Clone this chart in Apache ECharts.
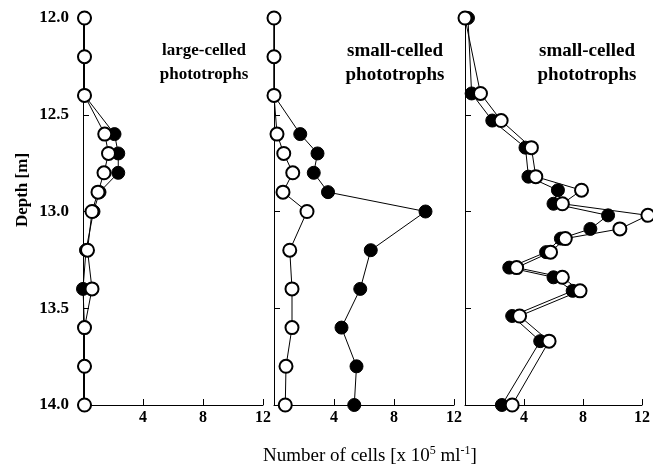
<!DOCTYPE html>
<html>
<head>
<meta charset="utf-8">
<script src="https://cdn.jsdelivr.net/npm/echarts@6/dist/echarts.min.js"></script>
<style>
  html, body { margin: 0; padding: 0; background: #fff; }
  #main { width: 653px; height: 470px; }
</style>
</head>
<body>
<div id="main"></div>
<script>
// depths [m] for the first two panels
const depthA = [12.0, 12.2, 12.4, 12.6, 12.7, 12.8, 12.9, 13.0, 13.2, 13.4, 13.6, 13.8, 14.0]
// large-celled phototrophs
const largeFilled = [0.1, 0.1, 0.1, 2.1, 2.35, 2.35, 1.1, 0.7, 0.2, 0.0, 0.1, 0.1, 0.1]
const largeOpen = [0.1, 0.1, 0.1, 1.45, 1.7, 1.4, 1.0, 0.6, 0.3, 0.6, 0.1, 0.1, 0.1]
// small-celled phototrophs (middle)
const smallFilled = [0, 0, 0, 1.75, 2.9, 2.65, 3.6, 10.1, 6.45, 5.75, 4.5, 5.5, 5.35]
const smallOpen = [0, 0, 0, 0.2, 0.65, 1.25, 0.6, 2.2, 1.05, 1.2, 1.2, 0.8, 0.75]
// depths for the right panel
const depthB = [12.0, 12.39, 12.53, 12.67, 12.82, 12.89, 12.96, 13.02, 13.09, 13.14, 13.21, 13.29, 13.34, 13.41, 13.54, 13.67, 14.0]
const rightFilled = [0.2, 0.45, 1.85, 4.1, 4.3, 6.3, 6.0, 9.7, 8.5, 6.5, 5.5, 3.0, 6.0, 7.3, 3.2, 5.1, 2.5]
const rightOpen = [0.0, 1.05, 2.45, 4.5, 4.8, 7.9, 6.6, 12.4, 10.5, 6.8, 5.8, 3.5, 6.6, 7.8, 3.7, 5.7, 3.2]

const panelTitles = ['large-celled\nphototrophs', 'small-celled\nphototrophs', 'small-celled\nphototrophs']
const yTicks = [12.0, 12.5, 13.0, 13.5, 14.0]

const serif = "'Liberation Serif', 'Times New Roman', serif"
const lefts = [83, 274, 465]
const titleX = [199, 390, 582]
const titleSize = [17, 19, 19]

const pair = (xs, ys) => xs.map((v, i) => [v, ys[i]])

const grids = lefts.map(l => ({ left: l, top: 18, width: 180, height: 387 }))

const xAxes = lefts.map((l, i) => ({
	type: 'value', gridIndex: i, min: 0, max: 12, interval: 4,
	axisLine: { lineStyle: { color: '#000', width: 1 } },
	axisTick: { inside: true, length: 6, lineStyle: { color: '#000' } },
	axisLabel: {
		color: '#000', fontFamily: serif, fontWeight: 'bold', fontSize: 16, margin: 5,
		formatter: v => v === 0 ? '' : String(v)
	},
	splitLine: { show: false }
}))

const yAxes = lefts.map((l, i) => ({
	type: 'value', gridIndex: i, inverse: true, min: 12, max: 14, interval: 0.5,
	axisLine: { show: true, lineStyle: { color: '#000', width: 1 } },
	axisTick: { show: true, inside: true, length: 6, lineStyle: { color: '#000' } },
	axisLabel: {
		show: i === 0, color: '#000', fontFamily: serif, fontWeight: 'bold', fontSize: 17, margin: 14,
		formatter: v => yTicks.indexOf(v) >= 0 ? v.toFixed(1) : ''
	},
	splitLine: { show: false }
}))

// filled circles first, open circles drawn on top
function filled(data, i) {
	return {
		type: 'line', xAxisIndex: i, yAxisIndex: i, data: data, clip: false,
		symbol: 'circle', symbolSize: 13, z: 2,
		lineStyle: { color: '#000', width: 1 },
		itemStyle: { color: '#000', borderColor: '#000', borderWidth: 1 }
	}
}
function open(data, i) {
	return {
		type: 'line', xAxisIndex: i, yAxisIndex: i, data: data, clip: false,
		symbol: 'circle', symbolSize: 13, z: 3,
		lineStyle: { color: '#000', width: 1 },
		itemStyle: { color: '#fff', borderColor: '#000', borderWidth: 2 }
	}
}

const myChart = echarts.init(document.getElementById('main'))
myChart.setOption({
	animation: false,
	backgroundColor: '#fff',
	grid: grids,
	xAxis: xAxes,
	yAxis: yAxes,
	title: panelTitles.map((t, i) => ({
		text: t, left: titleX[i], top: 34, textAlign: 'center',
		textStyle: { fontFamily: serif, fontWeight: 'bold', fontSize: titleSize[i], color: '#000', lineHeight: 24 }
	})),
	graphic: [
		{
			type: 'text', x: 23, y: 190, rotation: Math.PI / 2,
			style: {
				text: 'Depth [m]', fontFamily: serif, fontWeight: 'bold', fontSize: 17,
				fill: '#000', align: 'center', verticalAlign: 'middle'
			}
		},
		{
			type: 'text', x: 370, y: 456,
			style: {
				text: '{a|Number of cells [x 10}{s|5}{a| ml}{s|-1}{a|]}',
				align: 'center', verticalAlign: 'middle', fill: '#000',
				rich: {
					a: { fontFamily: serif, fontSize: 19, fill: '#000', lineHeight: 22 },
					s: { fontFamily: serif, fontSize: 12, fill: '#000', lineHeight: 22, verticalAlign: 'top', padding: [0, 0, 8, 0] }
				}
			}
		}
	],
	series: [
		filled(pair(largeFilled, depthA), 0),
		open(pair(largeOpen, depthA), 0),
		filled(pair(smallFilled, depthA), 1),
		open(pair(smallOpen, depthA), 1),
		filled(pair(rightFilled, depthB), 2),
		open(pair(rightOpen, depthB), 2)
	]
})
</script>
</body>
</html>
